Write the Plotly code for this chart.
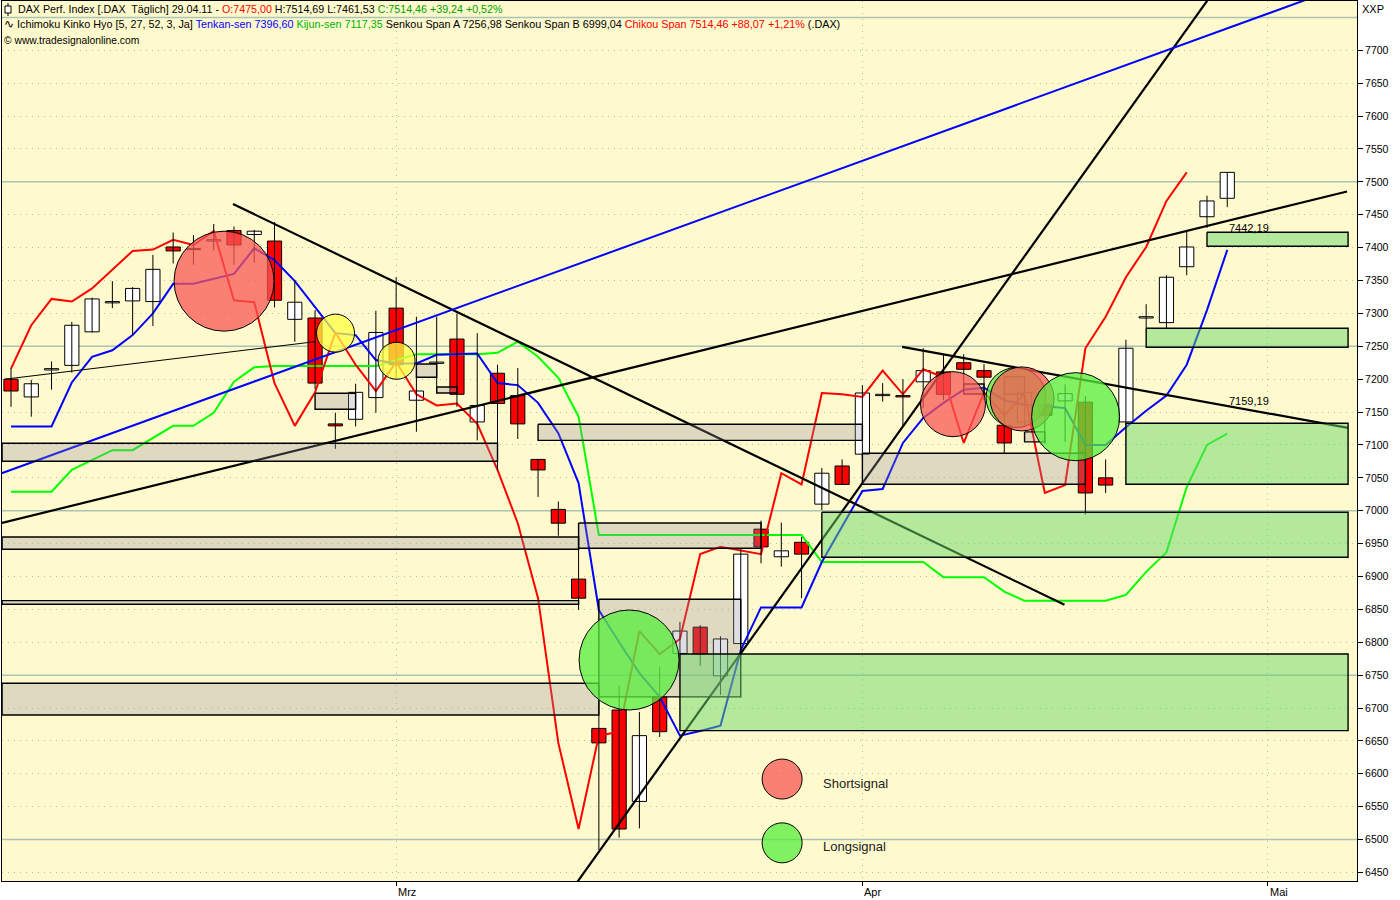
import plotly.graph_objects as go

# ---------------- data ----------------
day_index = list(range(61))
opens = [7200, 7173, 7214, 7221, 7272, 7316, 7319, 7318, 7401, 7398, 7410, 7426, 7420, 7410, 7291,
         7293, 7132, 7139, 7172, 7308, 7168, 7224, 7261, 7135, 7209, 7175, 7078, 7002, 6896, 6669,
         6697, 6558, 6717, 6783, 6823, 6749, 6798, 6972, 6930, 6952, 7010, 7068, 7086, 7175, 7175,
         7196, 7211, 7225, 7213, 7130, 7135, 7161, 7167, 7165, 7050, 7135, 7293, 7286, 7371, 7447, 7475.00]
highs = [7217, 7199, 7227, 7287, 7324, 7349, 7340, 7389, 7423, 7419, 7436, 7432, 7427, 7439, 7351,
         7305, 7149, 7193, 7304, 7355, 7295, 7295, 7300, 7270, 7222, 7217, 7078, 7014, 6942, 6712,
         6734, 6694, 6762, 6831, 6826, 6809, 6943, 6985, 6982, 6960, 7065, 7078, 7191, 7194, 7200,
         7247, 7237, 7238, 7223, 7181, 7185, 7189, 7192, 7174, 7078, 7260, 7314, 7358, 7424, 7479, 7514.69]
lows = [7158, 7143, 7184, 7210, 7271, 7308, 7267, 7281, 7376, 7374, 7396, 7374, 7377, 7309, 7257,
        7185, 7094, 7128, 7149, 7200, 7120, 7179, 7158, 7107, 7062, 7109, 7021, 6962, 6849, 6484,
        6503, 6517, 6656, 6781, 6764, 6720, 6795, 6920, 6915, 6867, 7001, 7040, 7080, 7166, 7128,
        7156, 7168, 7190, 7168, 7088, 7128, 7102, 7105, 6994, 7027, 7130, 7277, 7278, 7358, 7430, 7461.53]
closes = [7182, 7193, 7216, 7282, 7322, 7318, 7338, 7367, 7395, 7397, 7412, 7404, 7425, 7320, 7317,
          7194, 7129, 7180, 7271, 7222, 7182, 7226, 7177, 7160, 7163, 7132, 7062, 6981, 6867, 6647,
          6516, 6658, 6664, 6817, 6782, 6805, 6934, 6945, 6939, 6934, 7057, 7040, 7179, 7177, 7173,
          7213, 7177, 7215, 7203, 7103, 7180, 7145, 7178, 7027, 7039, 7247, 7295, 7355, 7401, 7471, 7514.46]
tenkan = [7128, 7128, 7128, 7195, 7234, 7244, 7267, 7300, 7345, 7345, 7352, 7360, 7399, 7381, 7349,
          7309, 7270, 7267, 7229, 7224, 7224, 7237, 7238, 7239, 7194, 7191, 7164, 7118, 7042, 6849,
          6800, 6753, 6717, 6658, 6665, 6673, 6788, 6853, 6853, 6853, 6922, 6975, 7030, 7033, 7103,
          7141, 7164, 7184, 7187, 7168, 7161, 7159, 7156, 7100, 7100, 7127, 7152, 7175, 7222, 7305, 7396.60]
kijun = [7029, 7029, 7029, 7062, 7077, 7092, 7092, 7111, 7129, 7129, 7149, 7196, 7218, 7220, 7220,
         7220, 7220, 7220, 7220, 7229, 7238, 7238, 7238, 7238, 7240, 7257, 7234, 7202, 7143, 6963,
         6963, 6963, 6963, 6963, 6963, 6963, 6963, 6963, 6963, 6963, 6922, 6922, 6922, 6922, 6922,
         6922, 6899, 6899, 6899, 6877, 6863, 6863, 6863, 6863, 6863, 6872, 6907, 6937, 7036, 7100, 7117.35]
chikou_shift = 2  # displacement parameter 3 -> shifted back 2 bars

# zones (start / end bar, upper / lower price)
gray_start = [-0.44, 15, 20, 21, 26, -0.44, 28, -0.44, 29, -0.44, 42, 47, 49, 50]
gray_end = [24, 17, 21, 22, 42, 28, 37, 28, 36, 29, 53, 48, 50, 51]
gray_top = [7102.6, 7178.6, 7223, 7188, 7131.5, 6960, 6981.4, 6863.3, 6865.4, 6737.7, 7087.4, 7192.7, 7203.8, 7119.8]
gray_bottom = [7075.2, 7154.3, 7203, 7179, 7107, 6941.4, 6943, 6857.8, 6716.9, 6689.5, 7040.2, 7177.5, 7177, 7104.6]
green_start = [33, 40, 55, 56, 59]
green_end = [65.96, 65.96, 65.96, 65.96, 65.96]
green_top = [6782.2, 6997.7, 7133, 7277.4, 7423.4]
green_bottom = [6665.6, 6929.3, 7040.2, 7248.5, 7402.1]

# signals
signal_bar = [10.51, 16.01, 19.02, 30.49, 46.47, 49.58, 49.88, 52.52]
signal_price = [7349, 7270, 7228, 6773, 7162, 7172, 7170, 7143]
signal_kind = ["short", "neutral", "neutral", "long", "short", "long", "short", "long"]

# trend lines (bar, price) pairs
trend_black_x = [[-0.444, 65.91], [10.95, 51.97], [27.5, 59.5], [43.96, 65.96]]
trend_black_y = [[6981.4, 7485.4], [7466.4, 6857], [6416.7, 7796.6], [7249, 7126]]
trend_thin_x = [-0.3, 15.0]
trend_thin_y = [7200, 7257]
trend_blue_x = [-0.46, 66.4]
trend_blue_y = [7057, 7805]

level_labels = ["7442,19", "7159,19"]
level_label_bar = [60, 60]
level_label_price = [7430, 7167]

month_names = ["Mrz", "Apr", "Mai"]
month_bar = [19, 42, 62]
y_ticks = list(range(6450, 7701, 50))

# ---------------- styles ----------------
BG = "#FFFACD"
GRID = "#A9C3B5"
signal_size = [100, 38, 37, 100, 65, 60, 64, 88]
signal_color = {"short": "rgba(248,87,84,0.75)", "long": "rgba(86,237,60,0.75)",
                "neutral": "rgba(255,255,65,0.75)"}
FONT = "Liberation Sans"

fig = go.Figure()

# indicator lines
fig.add_trace(go.Scatter(x=day_index, y=kijun, mode="lines", line=dict(color="#00FF00", width=2)))
fig.add_trace(go.Scatter(x=day_index, y=tenkan, mode="lines", line=dict(color="#0000FF", width=2)))
fig.add_trace(go.Scatter(x=day_index[:-chikou_shift], y=closes[chikou_shift:], mode="lines",
                         line=dict(color="#FF0000", width=2)))

# wicks
wx, wy = [], []
for i, h, l in zip(day_index, highs, lows):
    wx += [i, i, None]
    wy += [l, h, None]
fig.add_trace(go.Scatter(x=wx, y=wy, mode="lines", line=dict(color="black", width=1)))

# bodies
base = [min(o, c) for o, c in zip(opens, closes)]
height = [max(abs(c - o), 1.5) for o, c in zip(opens, closes)]
colors = ["#FFFFFF" if c >= o else "#FF0000" for o, c in zip(opens, closes)]
fig.add_trace(go.Bar(x=day_index, y=height, base=base, width=0.7,
                     marker=dict(color=colors, line=dict(color="black", width=1))))

# trend lines
for xs, ys in zip(trend_black_x, trend_black_y):
    fig.add_trace(go.Scatter(x=xs, y=ys, mode="lines", line=dict(color="black", width=2.2)))
fig.add_trace(go.Scatter(x=trend_thin_x, y=trend_thin_y, mode="lines", line=dict(color="black", width=1)))
fig.add_trace(go.Scatter(x=trend_blue_x, y=trend_blue_y, mode="lines", line=dict(color="#0000FF", width=2)))


def zone_trace(x0s, x1s, tops, bots, fill):
    xs, ys = [], []
    for a, b, t, u in zip(x0s, x1s, tops, bots):
        xs += [a, b, b, a, a, None]
        ys += [t, t, u, u, t, None]
    return go.Scatter(x=xs, y=ys, mode="lines", fill="toself", fillcolor=fill,
                      line=dict(color="black", width=1.4))


fig.add_trace(zone_trace(gray_start, gray_end, gray_top, gray_bottom, "rgba(150,145,160,0.3)"))
fig.add_trace(zone_trace(green_start, green_end, green_top, green_bottom, "rgba(105,214,105,0.5)"))

# signal circles
fig.add_trace(go.Scatter(x=signal_bar, y=signal_price, mode="markers",
                         marker=dict(size=signal_size, color=[signal_color[k] for k in signal_kind],
                                     line=dict(color="black", width=1), opacity=1)))

# legend circles
legend_bar = [38.04, 38.04]
legend_price = [6592, 6495]
fig.add_trace(go.Scatter(x=legend_bar, y=legend_price, mode="markers",
                         marker=dict(size=40, color=[signal_color["short"], signal_color["long"]],
                                     line=dict(color="black", width=1))))

annotations = []
for txt, p in zip(["Shortsignal", "Longsignal"], legend_price):
    annotations.append(dict(x=39.96, y=p, xref="x", yref="y", text=txt, showarrow=False,
                            xanchor="left", yanchor="middle", yshift=-4,
                            font=dict(family=FONT, size=13, color="#222")))
for txt, b, p in zip(level_labels, level_label_bar, level_label_price):
    annotations.append(dict(x=b, y=p, xref="x", yref="y", text=txt, showarrow=False,
                            xanchor="left", yanchor="middle", font=dict(family=FONT, size=11, color="black")))
for txt, b in zip(month_names, month_bar):
    annotations.append(dict(x=b, y=0, xref="x", yref="paper", text=txt, showarrow=False,
                            xanchor="left", yanchor="top", xshift=0, yshift=-3,
                            font=dict(family=FONT, size=11, color="black")))


def hdr(px, py, text, size=10.8):
    return dict(x=0, y=1, xref="paper", yref="paper", xshift=px - 2, yshift=-(py - 1),
                text=text, showarrow=False, xanchor="left", yanchor="middle",
                font=dict(family=FONT, size=size, color="black"))


line1 = ("DAX Perf. Index [.DAX  Täglich] 29.04.11 - <span style='color:#FF0000'>O:7475,00</span>"
         " H:7514,69 L:7461,53 <span style='color:#00A000'>C:7514,46 +39,24 +0,52%</span>")
line2 = ("Ichimoku Kinko Hyo [5, 27, 52, 3, Ja] <span style='color:#0000FF'>Tenkan-sen 7396,60</span> "
         "<span style='color:#00B400'>Kijun-sen 7117,35</span> Senkou Span A 7256,98 Senkou Span B 6999,04 "
         "<span style='color:#FF0000'>Chikou Span 7514,46 +88,07 +1,21%</span> (.DAX)")
annotations.append(hdr(16, 9, line1, size=10.7))
annotations.append(hdr(2, 24, "∿", size=12))
annotations.append(hdr(15, 24, line2))
annotations.append(hdr(2, 40, "© www.tradesignalonline.com", size=10.3))
annotations.append(dict(x=1, y=1, xref="paper", yref="paper", xshift=3, yshift=-8, text="XXP",
                        showarrow=False, xanchor="left", yanchor="middle",
                        font=dict(family=FONT, size=11, color="black")))

shapes = []
for lvl in [6500, 6750, 7000, 7250, 7500, 7750]:
    shapes.append(dict(type="line", xref="paper", yref="y", x0=0, x1=1, y0=lvl, y1=lvl,
                       line=dict(color=GRID, width=1.5), layer="below"))
# small candle icon in header
shapes.append(dict(type="line", xref="paper", yref="paper", xsizemode="pixel", ysizemode="pixel",
                   xanchor=0, yanchor=1, x0=6, x1=6, y0=-2, y1=-15, line=dict(color="black", width=1)))
shapes.append(dict(type="rect", xref="paper", yref="paper", xsizemode="pixel", ysizemode="pixel",
                   xanchor=0, yanchor=1, x0=3, x1=9, y0=-5, y1=-12, fillcolor="white",
                   line=dict(color="black", width=1)))

fig.update_layout(
    width=1400, height=900,
    margin=dict(l=2, r=43, t=1, b=19),
    paper_bgcolor="white", plot_bgcolor=BG,
    showlegend=False, hovermode=False, barmode="overlay",
    annotations=annotations, shapes=shapes,
    font=dict(family=FONT, size=11, color="black"),
)
fig.update_xaxes(range=[-0.444, 66.4], tickvals=month_bar, ticktext=["", "", ""],
                 ticks="outside", ticklen=4, tickcolor="black",
                 showgrid=True, gridcolor=GRID, griddash="1px,5px", gridwidth=1,
                 showline=True, linecolor="black", linewidth=1, mirror=True, zeroline=False)
fig.update_yaxes(range=[6437, 7775], side="right", tickvals=y_ticks, ticktext=[str(v) for v in y_ticks],
                 ticks="outside", ticklen=5, tickcolor="black", tickfont=dict(family=FONT, size=10.5),
                 showgrid=True, gridcolor=GRID, griddash="1px,5px", gridwidth=1,
                 showline=True, linecolor="black", linewidth=1, mirror=True, zeroline=False)

fig.write_html("out.html", config={"displayModeBar": False},
               post_script="document.body.style.margin='0px';document.body.style.overflow='hidden';")
